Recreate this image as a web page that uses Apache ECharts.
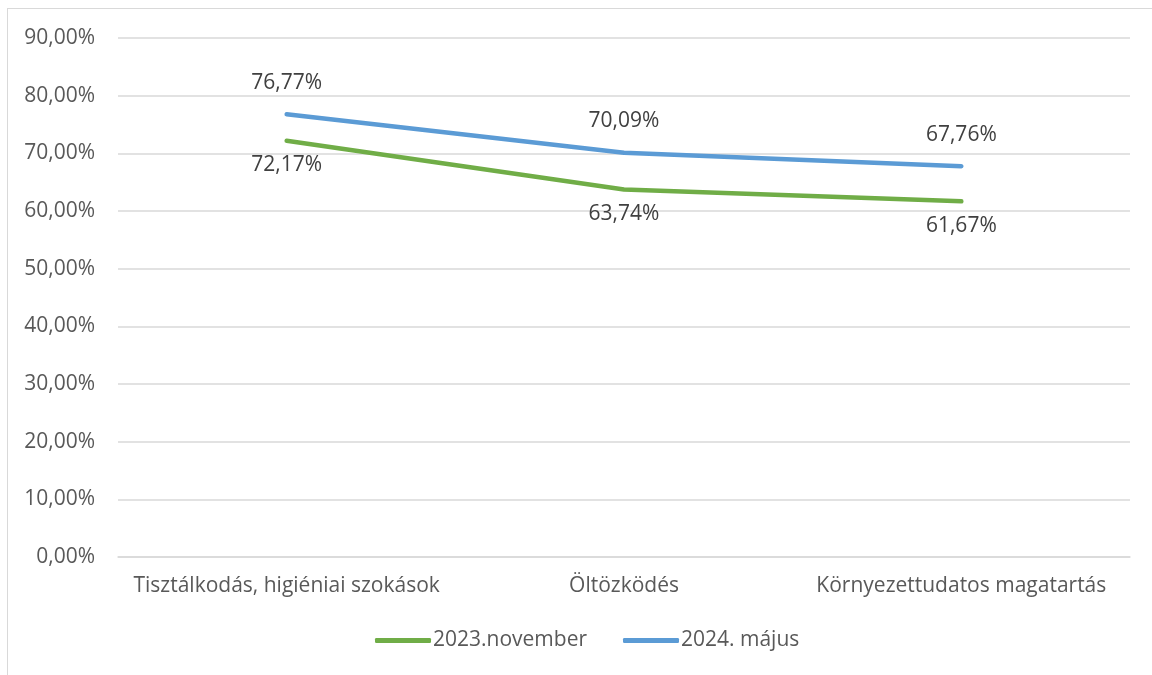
<!DOCTYPE html>
<html><head><meta charset="utf-8">
<script src="https://cdn.jsdelivr.net/npm/echarts@6/dist/echarts.min.js"></script>
<style>html,body{margin:0;padding:0;background:#fff}#c{width:1152px;height:675px;position:relative}
#frame{position:absolute;left:7px;top:8px;width:1200px;height:700px;border:1.5px solid #d9d9d9;box-sizing:border-box;pointer-events:none}</style>
</head><body><div id="c"></div><div id="frame"></div>
<script>
const categories = ['Tisztálkodás, higiéniai szokások', 'Öltözködés', 'Környezettudatos magatartás'];
const seriesNames = ['2023.november', '2024. május'];
const nov2023 = [0.7217, 0.6374, 0.6167];
const maj2024 = [0.7677, 0.7009, 0.6776];
const yTicks = {min: 0, max: 0.9, interval: 0.1};
const fmt = v => (v * 100).toFixed(2).replace('.', ',') + '%';
const font = 'Open Sans';
const fs = 21;
const chart = echarts.init(document.getElementById('c'), null, {renderer: 'canvas'});
chart.setOption({
  animation: false,
  textStyle: {fontFamily: font},
  grid: {left: 118, right: 22, top: 38, bottom: 118},
  legend: {
    bottom: 19, left: 370, itemGap: 36, itemWidth: 56, itemHeight: 5, icon: 'roundRect',
    textStyle: {fontFamily: font, fontSize: fs, color: '#595959', padding: [0, 0, 0, -3]},
    data: seriesNames
  },
  xAxis: {
    type: 'category', data: categories, boundaryGap: true,
    axisLine: {lineStyle: {color: '#d9d9d9', width: 1.5}}, axisTick: {show: false},
    axisLabel: {fontFamily: font, fontSize: fs, color: '#595959', margin: 19, interval: 0}
  },
  yAxis: {
    type: 'value', min: yTicks.min, max: yTicks.max, interval: yTicks.interval,
    axisLine: {show: false}, axisTick: {show: false},
    splitLine: {lineStyle: {color: '#d9d9d9', width: 1.5}},
    axisLabel: {fontFamily: font, fontSize: fs, color: '#595959', margin: 23, formatter: fmt}
  },
  series: [
    {name: seriesNames[0], type: 'line', data: nov2023, symbol: 'circle', symbolSize: 0.1, showSymbol: true,
     lineStyle: {color: '#70ad47', width: 4.5, cap: 'round'}, itemStyle: {color: '#70ad47'},
     emphasis: {disabled: true},
     label: {show: true, position: 'bottom', distance: 14, formatter: p => fmt(p.value), fontFamily: font, fontSize: fs, color: '#404040'}},
    {name: seriesNames[1], type: 'line', data: maj2024, symbol: 'circle', symbolSize: 0.1, showSymbol: true,
     lineStyle: {color: '#5b9bd5', width: 4.5, cap: 'round'}, itemStyle: {color: '#5b9bd5'},
     emphasis: {disabled: true},
     label: {show: true, position: 'top', distance: 21, formatter: p => fmt(p.value), fontFamily: font, fontSize: fs, color: '#404040'}}
  ]
});
</script></body></html>
